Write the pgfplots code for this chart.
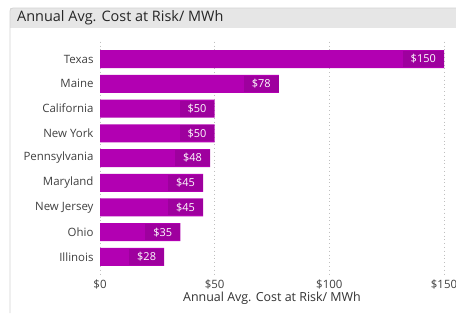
\documentclass[border=0pt]{standalone}
\usepackage{pgfplots}
\pgfplotsset{compat=1.18}
\usepackage{fontspec}
\setmainfont{Open Sans}
\definecolor{barc}{HTML}{B200B2}
\definecolor{labc}{HTML}{9E009E}
\definecolor{tickc}{HTML}{404040}
\definecolor{bandc}{HTML}{E6E6E6}
\definecolor{borderc}{HTML}{D4D4D4}
\begin{document}
\begin{tikzpicture}[x=1bp,y=1bp]
\useasboundingbox (0,0) rectangle (456,313);
\fill[white] (0,0) rectangle (456,313);
% title band
\fill[bandc] (10,285) rectangle (456,305);
\draw[borderc, line width=0.8bp, rounded corners=3bp] (10,0) -- (10,305) -- (460,305);
\node[anchor=west, text=black!85, font=\fontsize{14.5}{16}\selectfont, inner xsep=0pt] at (17,295.5) {Annual Avg. Cost at Risk/ MWh};
\begin{axis}[
  at={(100bp,38.7bp)}, anchor=south west,
  scale only axis, width=344bp, height=232.6bp,
  xbar, bar width=18bp,
  xmin=0, xmax=150,
  ymin=-0.7, ymax=8.7, y dir=reverse,
  ytick={0,...,8},
  yticklabels={Texas,Maine,California,New York,Pennsylvania,Maryland,New Jersey,Ohio,Illinois},
  xtick={0,50,100,150},
  xticklabels={\$0,\$50,\$100,\$150},
  axis line style={draw=none},
  major tick length=0pt,
  /pgf/number format/assume math mode=true,
  xmajorgrids, grid style={dash pattern=on 0.8bp off 3bp, black!25, line width=0.8bp},
  ticklabel style={text=tickc, font=\fontsize{11.5}{13}\selectfont},
  yticklabel style={xshift=-3bp},
  xticklabel style={yshift=-2bp},
  xlabel={Annual Avg. Cost at Risk/ MWh},
  xlabel style={text=black!80, font=\fontsize{12.5}{14}\selectfont, yshift=4bp},
  nodes near coords={\$\pgfmathprintnumber{\pgfplotspointmeta}},
  nodes near coords style={anchor=east, fill=labc, text=white, font=\fontsize{11}{12}\selectfont, minimum height=16bp, inner xsep=8bp, inner ysep=0pt},
  point meta=x,
  clip=false,
]
\addplot[fill=barc, draw=none] coordinates {
(150,0) (78,1) (50,2) (50,3) (48,4) (45,5) (45,6) (35,7) (28,8)};
\end{axis}
\end{tikzpicture}
\end{document}
